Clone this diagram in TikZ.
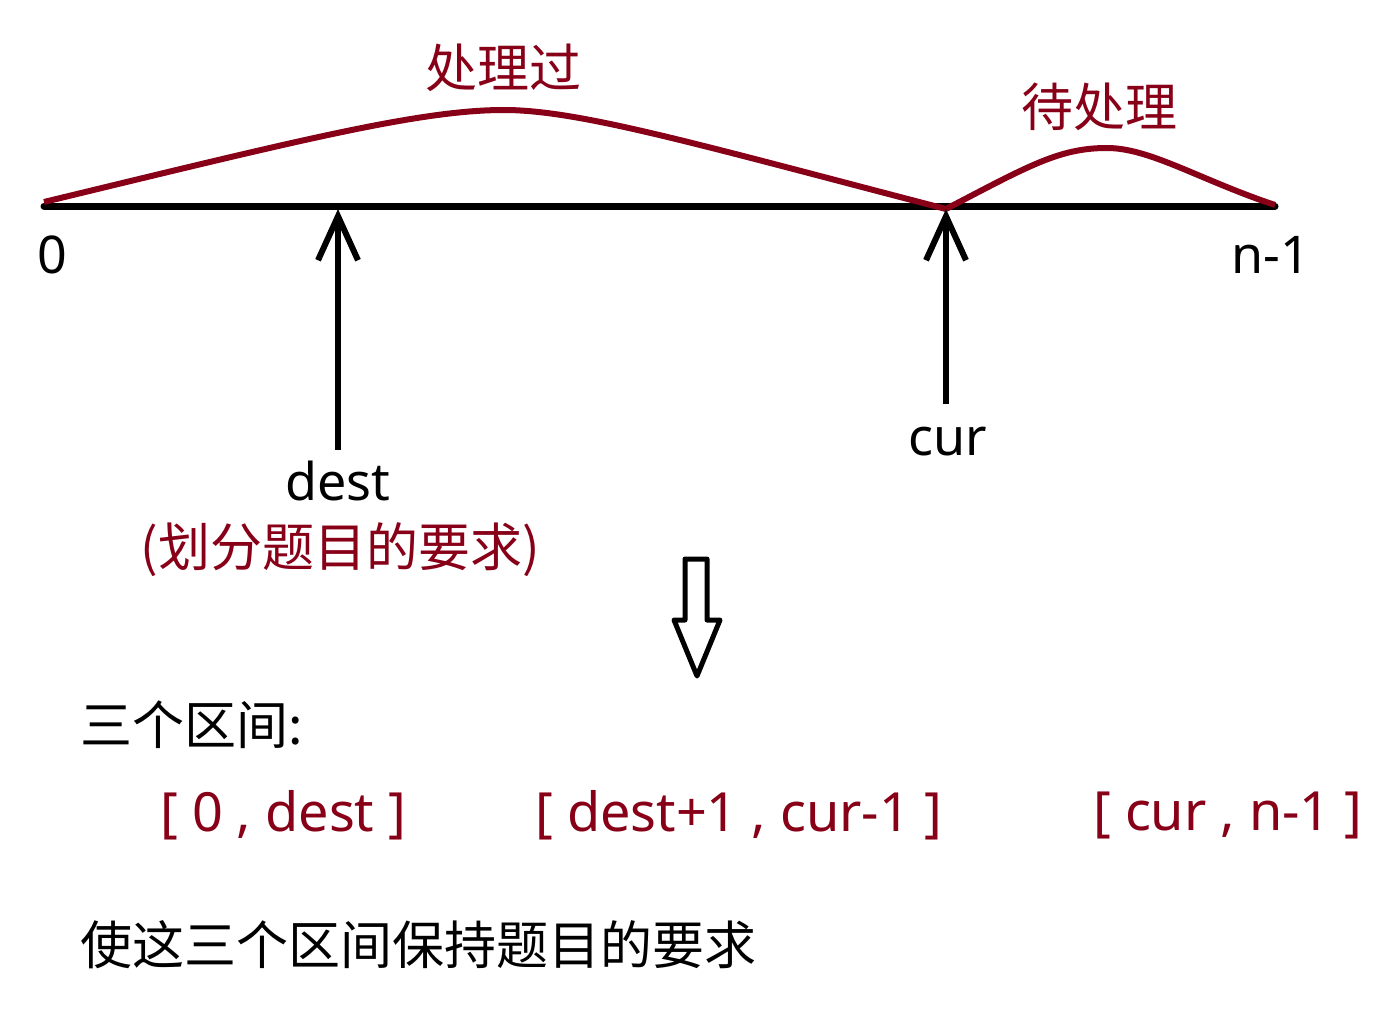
\documentclass[tikz,border=0pt]{standalone}
\usepackage{fontspec}
\setmainfont{Noto Sans}
\newfontfamily\cjk{Noto Sans CJK SC}
\usepackage{tikz}
\usetikzlibrary{arrows.meta, positioning, calc}
\usepackage{xcolor}
\definecolor{darkred}{RGB}{136,0,24}
\newcommand\bigtxt{\fontsize{52}{62}\selectfont}
\newcommand\rangetxt{\fontsize{54}{64}\selectfont}

\begin{document}
\begin{tikzpicture}[x=1pt, y=-1pt,
  lbl/.style={inner sep=0pt, font=\bigtxt},
  redlbl/.style={lbl, text=darkred},
  bump/.style={darkred, line width=6pt, line join=round},
  pointer/.style={line width=6pt, -{Straight Barb[length=44pt, width=40pt, line width=6pt]}}]
  \useasboundingbox (0,0) rectangle (1391,1011);
  % Axis from 0 to n-1
  \coordinate (left) at (44,206);
  \coordinate (right) at (1275,206);
  \coordinate (destpt) at (338,209);
  \coordinate (curpt) at (946,209);
  \draw[line width=7pt, line cap=round] (left) -- (right);
  \node[lbl] (zero) at (52,255) {0};
  \node[lbl] (nlast) at (1271,255) {n-1};
  % Processed and pending parts
  \draw[bump] (left) ++(0,-4) .. controls (300,140) and (420,110) .. (504,110)
    .. controls (580,110) and (700,145) .. (curpt);
  \draw[bump] (curpt) .. controls (1030,165) and (1060,148) .. (1107,148)
    .. controls (1150,148) and (1200,180) .. ($(right)+(0,-1)$);
  \node[redlbl] (done) at (503,68) {\cjk 处理过};
  \node[redlbl] (todo) at (1099,107) {\cjk 待处理};
  % Pointers
  \node[lbl, anchor=north] (dest) at (338,461) {dest};
  \node[redlbl] (destnote) at (340,550) {\cjk (划分题目的要求)};
  \draw[pointer, shorten <=11pt] (dest.north) -- (destpt);
  \node[lbl] (cur) at (948,442) {cur};
  \draw[pointer, shorten <=23pt] (cur.north -| curpt) -- (curpt);
  % Block arrow down
  \draw[line width=5pt, line join=round] (685,559) -- (707,559) -- (707,620) -- (720,620)
    -- (697,676) -- (674,620) -- (685,620) -- cycle;
  % Three ranges
  \node[lbl, anchor=west] (ranges) at (80,725) {\cjk 三个区间:};
  \node[redlbl, font=\rangetxt, anchor=west] (rangeA) at (160,815) {[ 0 , dest ]};
  \node[redlbl, font=\rangetxt, anchor=west] (rangeB) at (535,815) {[ dest+1 , cur-1 ]};
  \node[redlbl, font=\rangetxt, anchor=west] (rangeC) at (1093,815) {[ cur , n-1 ]};
  \node[lbl, anchor=west] (goal) at (80,945) {\cjk 使这三个区间保持题目的要求};
\end{tikzpicture}
\end{document}
